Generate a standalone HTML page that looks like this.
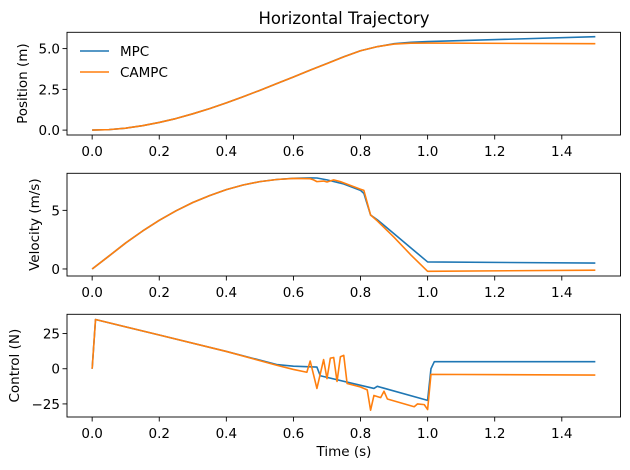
<!DOCTYPE html>
<html><head><meta charset="utf-8"><style>
body{margin:0;background:#fff;}
svg{display:block;font-family:"DejaVu Sans","Liberation Sans",sans-serif;}
</style></head><body>
<svg id="chart" width="630" height="470" viewBox="0 0 630 470" xmlns="http://www.w3.org/2000/svg"></svg>
<script>
const xTicks = [0.0, 0.2, 0.4, 0.6, 0.8, 1.0, 1.2, 1.4];
const posTicks = [0.0, 2.5, 5.0];
const velTicks = [0, 5];
const ctrlTicks = [-25, 0, 25];

const posT = [0,0.05,0.1,0.15,0.2,0.25,0.3,0.35,0.4,0.45,0.5,0.55,0.6,0.65,0.7,0.75,0.8,0.85,0.9,0.95,1.0,1.5];
const posMPC = [0,0.03,0.12,0.27,0.47,0.71,1.0,1.32,1.67,2.05,2.44,2.85,3.26,3.68,4.09,4.5,4.87,5.12,5.3,5.39,5.43,5.73];
const posCAMPC = [0,0.03,0.12,0.27,0.47,0.71,1.0,1.32,1.67,2.05,2.44,2.85,3.26,3.68,4.08,4.49,4.87,5.12,5.28,5.33,5.34,5.30];

const velT = [0,0.05,0.1,0.15,0.2,0.25,0.3,0.35,0.4,0.45,0.5,0.55,0.6,0.65,0.67,0.7,0.75,0.8,0.81,0.83,0.85,0.9,0.95,1.0,1.5];
const velMPC = [0,1.1,2.22,3.23,4.15,4.96,5.67,6.26,6.77,7.16,7.45,7.63,7.73,7.77,7.76,7.6,7.25,6.7,6.45,4.6,4.2,3.0,1.8,0.6,0.5];
const velCAMPCt = [0,0.05,0.1,0.15,0.2,0.25,0.3,0.35,0.4,0.45,0.5,0.55,0.6,0.65,0.66,0.67,0.69,0.7,0.72,0.74,0.8,0.81,0.83,0.85,0.9,0.95,1.0,1.5];
const velCAMPC = [0,1.1,2.22,3.23,4.15,4.96,5.67,6.26,6.77,7.16,7.45,7.63,7.72,7.7,7.6,7.45,7.5,7.42,7.6,7.45,6.8,6.7,4.6,4.1,2.7,1.2,-0.2,-0.1];

const ctrlMPCt = [0,0.01,0.2,0.4,0.55,0.6,0.67,0.68,0.84,0.85,1.0,1.01,1.02,1.5];
const ctrlMPC = [0,35,24,12.3,3,1.8,1.2,-5,-14,-12.5,-22.5,0,5,5];
const ctrlCAMPCt = [0,0.01,0.2,0.4,0.55,0.6,0.64,0.65,0.67,0.69,0.70,0.71,0.72,0.73,0.74,0.75,0.76,0.8,0.82,0.83,0.84,0.86,0.87,0.88,0.96,0.97,0.99,1.0,1.01,1.5];
const ctrlCAMPC = [0,35,24,12.3,2.5,-0.5,-2.5,5.5,-14,6.5,-7,7.5,8,-9,8.5,9.5,-10.5,-13,-15,-29.5,-19,-20.5,-16,-21.5,-27,-25,-25.5,-29,-4,-4.5];

const NS = "http://www.w3.org/2000/svg";
const svg = document.getElementById('chart');
const L = 67, R = 620.5, XMIN = -0.075, XMAX = 1.575;
const xs = t => L + (t - XMIN) / (XMAX - XMIN) * (R - L);
function mk(tag, attrs, parent){const e=document.createElementNS(NS,tag);for(const k in attrs)e.setAttribute(k,attrs[k]);(parent||svg).appendChild(e);return e;}

const FS = 13.5;
const panels = [
 {name:'position', top:32.3, bot:135, ymin:-0.3, ymax:6.0, ticks:posTicks, fmt:v=>v.toFixed(1), label:'Position (m)', lx:27,
  series:[[posT,posMPC,'#1f77b4','mpc'],[posT,posCAMPC,'#ff7f0e','campc']]},
 {name:'velocity', top:173.3, bot:276, ymin:-0.6, ymax:8.16, ticks:velTicks, fmt:v=>String(v), label:'Velocity (m/s)', lx:39,
  series:[[velT,velMPC,'#1f77b4','mpc'],[velCAMPCt,velCAMPC,'#ff7f0e','campc']]},
 {name:'control', top:314.3, bot:417, ymin:-34.3, ymax:38.7, ticks:ctrlTicks, fmt:v=>v<0?'\u2212'+(-v):String(v), label:'Control (N)', lx:19,
  series:[[ctrlMPCt,ctrlMPC,'#1f77b4','mpc'],[ctrlCAMPCt,ctrlCAMPC,'#ff7f0e','campc']]}
];

panels.forEach(p=>{
  const g = mk('g',{});
  
  
  const ys = v => p.bot - (v - p.ymin)/(p.ymax - p.ymin)*(p.bot - p.top);
  p.series.forEach(s=>{
    const d = s[0].map((t,i)=>(i?'L':'M')+xs(t).toFixed(2)+','+ys(s[1][i]).toFixed(2)).join(' ');
    const path = mk('path',{d:d,fill:'none',stroke:s[2],'stroke-width':1.6,'stroke-linejoin':'round'},g);
    
    
  });
  const frame = mk('rect',{x:L,y:p.top,width:R-L,height:p.bot-p.top,fill:'none',stroke:'#000','stroke-width':0.9},g);
  
  
  xTicks.forEach(t=>{
    const x = xs(t);
    mk('line',{x1:x,x2:x,y1:p.bot,y2:p.bot+4.5,stroke:'#000','stroke-width':0.9},g);
    const tx = mk('text',{x:x,y:p.bot+21,'font-size':FS,'text-anchor':'middle',fill:'#000'},g);
    tx.textContent = t.toFixed(1);
    
    
  });
  p.ticks.forEach(v=>{
    const y = ys(v);
    mk('line',{x1:L-4.5,x2:L,y1:y,y2:y,stroke:'#000','stroke-width':0.9},g);
    const tx = mk('text',{x:L-7,y:y+5,'font-size':FS,'text-anchor':'end',fill:'#000'},g);
    tx.textContent = p.fmt(v);
    
    
  });
  const cy = (p.top+p.bot)/2;
  const yl = mk('text',{x:p.lx,y:cy,'font-size':FS,'text-anchor':'middle',transform:'rotate(-90 '+p.lx+' '+cy+')',fill:'#000'},g);
  yl.textContent = p.label;
  
  
});

const title = mk('text',{x:344,y:24,'font-size':16.5,'text-anchor':'middle',fill:'#000'});
title.textContent = 'Horizontal Trajectory';



const xl = mk('text',{x:344,y:456,'font-size':FS,'text-anchor':'middle',fill:'#000'});
xl.textContent = 'Time (s)';



const legend = mk('g',{});


[['MPC','#1f77b4',51],['CAMPC','#ff7f0e',72]].forEach(e=>{
  const ge = mk('g',{},legend);
  
  
  mk('line',{x1:80,x2:109,y1:e[2],y2:e[2],stroke:e[1],'stroke-width':1.6},ge);
  const t = mk('text',{x:120,y:e[2]+5,'font-size':FS,fill:'#000'},ge);
  t.textContent = e[0];
});
</script>
</body></html>
